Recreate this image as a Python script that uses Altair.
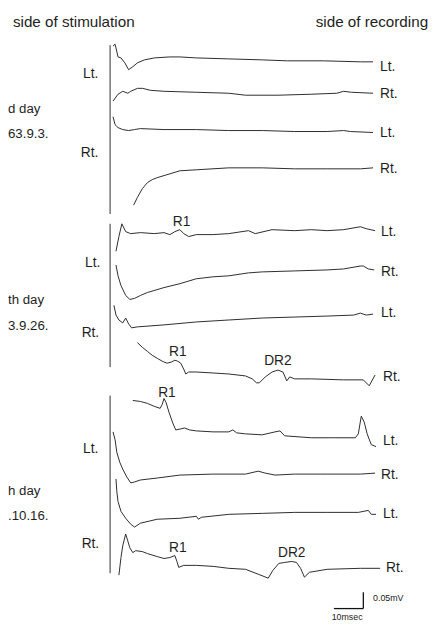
import altair as alt
import pandas as pd

# ---- trace data: time after stimulus (ms) and amplitude (µV) ----
s1_t1_ms = [1.0, 1.7, 2.7, 3.7, 5.0, 6.3, 7.7, 9.3, 11.7, 15.0, 20.3, 23.7, 29.3, 40.3, 51.7, 60.3, 72.7, 85.0, 89.3]
s1_t1_uv = [48, 54, 15, 12, -3, -24, -15, -3, 6, 12, 15, 15, 12, 9, 6, 3, 3, 0, 0]
s1_t2_ms = [1.0, 2.7, 4.3, 6.0, 7.0, 9.3, 11.0, 13.7, 18.3, 29.3, 40.3, 46.0, 57.0, 68.3, 77.0, 79.3, 82.0, 89.3]
s1_t2_uv = [-24, -3, 6, 0, 6, 15, 15, 9, 6, 3, 0, -6, -6, -3, 0, 6, 3, 0]
s1_t3_ms = [1.0, 1.7, 2.7, 4.3, 6.3, 8.3, 10.3, 18.3, 29.3, 40.3, 51.7, 62.7, 73.7, 79.3, 81.7, 89.3]
s1_t3_uv = [48, 24, 15, 9, 6, 9, 12, 9, 9, 6, 6, 3, 3, 6, 3, 0]
s1_t4_ms = [8.0, 9.3, 11.0, 12.7, 14.3, 16.0, 19.3, 23.7, 29.3, 40.3, 51.7, 62.7, 73.7, 85.0, 89.3]
s1_t4_uv = [-114, -90, -63, -45, -36, -30, -21, -9, -6, 0, 0, -3, -3, -3, 0]

s2_t1_ms = [2.0, 3.0, 4.0, 5.3, 7.0, 10.3, 15.0, 18.3, 20.3, 22.0, 23.7, 25.0, 26.7, 29.3, 35.0, 40.3, 47.0, 49.3, 55.0, 62.7, 68.3, 73.7, 79.3, 85.0, 87.0, 90.0]
s2_t1_uv = [-63, -18, 21, -3, -9, -6, -9, -6, -12, -3, 3, -9, -18, -12, -12, -9, 0, -9, 3, 0, 3, 0, 3, 12, 6, 0]
s2_t2_ms = [2.0, 2.7, 3.7, 5.3, 6.7, 8.3, 10.3, 12.7, 18.3, 23.7, 29.3, 35.0, 40.3, 47.0, 51.7, 62.7, 73.7, 79.3, 85.0, 86.0, 87.7, 89.7]
s2_t2_uv = [15, -18, -48, -78, -90, -87, -78, -69, -54, -42, -27, -21, -18, -9, -6, -3, 0, 3, 12, 12, 3, 0]
s2_t3_ms = [1.3, 2.0, 3.0, 4.3, 5.3, 6.3, 7.3, 9.3, 18.3, 29.3, 40.3, 51.7, 62.7, 73.7, 82.7, 85.0, 87.0, 89.3]
s2_t3_uv = [27, -3, -18, -27, -12, -30, -42, -39, -33, -24, -18, -12, -9, -6, -3, 3, -3, 0]
s2_t4_ms = [9.3, 11.0, 12.7, 14.3, 16.0, 17.7, 19.3, 20.7, 22.0, 23.0, 24.0, 25.0, 25.7, 26.7, 29.3, 35.0, 40.3, 46.0, 48.3, 49.7, 50.7, 52.7, 55.0, 57.0, 58.7, 60.0, 61.0, 62.7, 68.3, 79.3, 86.0, 88.0, 90.0]
s2_t4_uv = [111, 96, 84, 72, 63, 54, 48, 51, 57, 54, 48, 30, 15, 21, 21, 18, 15, 9, 0, -12, -12, 6, 21, 27, 21, -6, 6, 0, 0, -3, -3, -21, 12]

s3_t1_ms = [7.7, 10.3, 12.7, 15.0, 17.0, 17.7, 18.3, 19.0, 20.0, 21.3, 22.3, 24.0, 25.3, 27.0, 29.3, 35.0, 40.3, 41.7, 43.0, 46.0, 51.7, 56.0, 57.7, 59.3, 68.3, 76.0, 83.3, 84.3, 85.3, 86.3, 87.3, 88.7, 90.3]
s3_t1_uv = [114, 111, 105, 96, 90, 102, 120, 108, 78, 45, 24, 27, 30, 24, 21, 18, 18, 24, 15, 12, 9, 18, 21, 6, 0, 0, 0, 12, 66, 48, 12, -21, -27]
s3_t2_ms = [1.0, 1.7, 2.3, 3.3, 4.3, 5.7, 7.0, 8.3, 10.3, 16.0, 23.7, 35.0, 46.0, 50.3, 52.7, 56.0, 62.7, 73.7, 85.0, 90.0]
s3_t2_uv = [129, 105, 66, 36, 15, -9, -27, -24, -18, -12, -3, 0, 0, 9, 3, -3, 0, 0, 0, 3]
s3_t3_ms = [2.0, 2.3, 2.7, 3.7, 5.3, 7.0, 8.3, 10.3, 16.0, 23.7, 29.3, 30.0, 31.0, 40.3, 51.7, 62.7, 73.7, 84.3, 87.7, 88.7, 90.3]
s3_t3_uv = [105, 66, 36, 6, -15, -33, -42, -30, -18, -15, -9, -18, -12, -3, 0, 3, 3, 3, 9, -3, -3]
s3_t4_ms = [3.0, 3.7, 4.3, 5.3, 6.0, 6.7, 7.7, 8.7, 11.0, 12.7, 16.0, 18.3, 20.3, 22.0, 22.7, 23.3, 25.0, 29.3, 35.0, 40.3, 46.0, 50.3, 53.7, 55.3, 57.3, 59.3, 61.7, 63.3, 64.7, 66.0, 67.7, 73.7, 85.0, 91.7]
s3_t4_uv = [-21, 33, 69, 105, 84, 63, 48, 54, 51, 45, 36, 30, 33, 39, 21, 3, 9, 9, 6, 0, -3, -18, -30, -6, 15, 18, 21, 18, 0, -27, -12, -3, 0, 0]

trace_ms = [s1_t1_ms, s1_t2_ms, s1_t3_ms, s1_t4_ms, s2_t1_ms, s2_t2_ms, s2_t3_ms, s2_t4_ms,
            s3_t1_ms, s3_t2_ms, s3_t3_ms, s3_t4_ms]
trace_uv = [s1_t1_uv, s1_t2_uv, s1_t3_uv, s1_t4_uv, s2_t1_uv, s2_t2_uv, s2_t3_uv, s2_t4_uv,
            s3_t1_uv, s3_t2_uv, s3_t3_uv, s3_t4_uv]
# vertical stacking offset of each trace (µV)
trace_offset_uv = [1722, 1626, 1506, 1398, 1206, 1086, 951, 753, 573, 462, 342, 174]

# recording-side labels
rec_labels = ["Lt.", "Rt.", "Lt.", "Rt.", "Lt.", "Rt.", "Lt.", "Rt.", "Lt.", "Rt.", "Lt.", "Rt."]
rec_label_ms = [91.7, 91.7, 91.7, 91.7, 92.0, 92.0, 92.0, 92.7, 92.7, 92.0, 92.7, 93.7]
rec_label_uv = [1707, 1623, 1503, 1395, 1203, 1080, 954, 759, 564, 459, 339, 174]

# stimulation-side labels
stim_labels = ["Lt.", "Rt.", "Lt.", "Rt.", "Lt.", "Rt."]
stim_label_ms = [-4.0, -4.0, -3.3, -3.7, -4.0, -3.7]
stim_label_uv = [1686, 1443, 1107, 894, 540, 249]

# day / date labels (as far as they are visible at the left edge)
day_labels = ["d day", "63.9.3.", "th day", "3.9.26.", "h day", ".10.16."]
day_label_ms = [-34.67, -34.67, -34.67, -34.67, -34.67, -34.67]
day_label_uv = [1578, 1500, 993, 915, 411, 333]

# response annotations
resp_labels = ["R1", "R1", "DR2", "R1", "R1", "DR2"]
resp_label_ms = [24.3, 23.0, 57.0, 19.3, 23.0, 61.7]
resp_label_uv = [1233, 834, 807, 711, 237, 222]

# stimulus markers
stim_ms = [0, 0, 0]
stim_top_uv = [1773, 1227, 702]
stim_bottom_uv = [1257, 789, 159]

# calibration bar
cal_ms = [76, 86]
cal_uv = [51, 101]
cal_labels = ["0.05mV", "10msec"]

# headers
header_labels = ["side of stimulation", "side of recording"]
header_ms = [-33.0, 108.0]
header_uv = [1827, 1827]

# ---- build tables ----
rows = []
for i, (ms, uv) in enumerate(zip(trace_ms, trace_uv)):
    for m, u in zip(ms, uv):
        rows.append({"trace": i, "ms": m, "amp": u, "offset": trace_offset_uv[i]})
traces_df = pd.DataFrame(rows)

W, H = 434, 623
xs = alt.Scale(domain=[-104 / 3, 110], nice=False, zero=False)
ys = alt.Scale(domain=[0, 1869], nice=False, zero=False)
FONT = "Liberation Sans"
INK = "#2b2b2b"

lines = alt.Chart(traces_df).transform_calculate(
    level="datum.offset + datum.amp"
).mark_line(color=INK, strokeWidth=1, interpolate="linear").encode(
    x=alt.X("ms:Q", scale=xs, axis=None),
    y=alt.Y("level:Q", scale=ys, axis=None),
    detail="trace:N",
)

stim = alt.Chart(pd.DataFrame({"ms": stim_ms, "top": stim_top_uv, "bottom": stim_bottom_uv})).mark_rule(
    color=INK, strokeWidth=1
).encode(
    x=alt.X("ms:Q", scale=xs, axis=None),
    y=alt.Y("top:Q", scale=ys, axis=None),
    y2="bottom:Q",
)

cal_v = alt.Chart(pd.DataFrame({"ms": [cal_ms[1]], "a": [cal_uv[0]], "b": [cal_uv[1]]})).mark_rule(
    color="#111", strokeWidth=1.3
).encode(
    x=alt.X("ms:Q", scale=xs, axis=None),
    y=alt.Y("a:Q", scale=ys, axis=None),
    y2="b:Q",
)
cal_h = alt.Chart(pd.DataFrame({"a": [cal_ms[0]], "b": [cal_ms[1]], "uv": [cal_uv[0]]})).mark_rule(
    color="#111", strokeWidth=1.3
).encode(
    x=alt.X("a:Q", scale=xs, axis=None),
    x2="b:Q",
    y=alt.Y("uv:Q", scale=ys, axis=None),
)
cal_text1 = alt.Chart(pd.DataFrame({"label": cal_labels[:1], "ms": [89.3], "uv": [84]})).mark_text(
    font=FONT, fontSize=9, color="#222", baseline="middle", align="left"
).encode(x=alt.X("ms:Q", scale=xs, axis=None), y=alt.Y("uv:Q", scale=ys, axis=None), text="label:N")
cal_text2 = alt.Chart(pd.DataFrame({"label": cal_labels[1:], "ms": [80.5], "uv": [24]})).mark_text(
    font=FONT, fontSize=9, color="#222", baseline="middle", align="center"
).encode(x=alt.X("ms:Q", scale=xs, axis=None), y=alt.Y("uv:Q", scale=ys, axis=None), text="label:N")


def text_layer(labels, ms, uv, align, size, baseline="middle"):
    return alt.Chart(pd.DataFrame({"label": labels, "ms": ms, "uv": uv})).mark_text(
        font=FONT, fontSize=size, color="#1e1e1e", align=align, baseline=baseline
    ).encode(
        x=alt.X("ms:Q", scale=xs, axis=None),
        y=alt.Y("uv:Q", scale=ys, axis=None),
        text="label:N",
    )


rec_text = text_layer(rec_labels, rec_label_ms, rec_label_uv, "left", 14)
stim_text = text_layer(stim_labels, stim_label_ms, stim_label_uv, "right", 14)
day_text = text_layer(day_labels, day_label_ms, day_label_uv, "left", 13.5)
resp_text = text_layer(resp_labels, resp_label_ms, resp_label_uv, "center", 14)
head1 = text_layer(header_labels[:1], header_ms[:1], header_uv[:1], "left", 15.5, "alphabetic")
head2 = text_layer(header_labels[1:], header_ms[1:], header_uv[1:], "right", 15.5, "alphabetic")

chart = alt.layer(
    lines, stim, cal_v, cal_h, cal_text1, cal_text2,
    rec_text, stim_text, day_text, resp_text, head1, head2,
).properties(
    width=W, height=H, padding=0, autosize=alt.AutoSizeParams(type="none"),
    background="white",
).configure_view(stroke=None)

chart.save("out.html", embed_options={"renderer": "svg", "actions": False})
